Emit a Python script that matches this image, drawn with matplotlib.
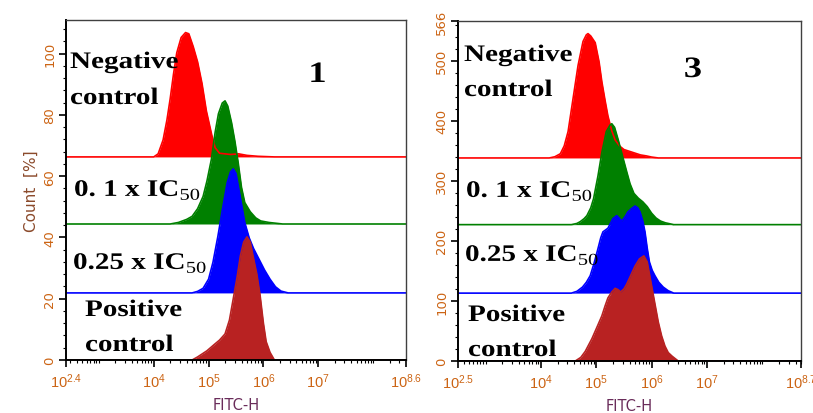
import numpy as np
import matplotlib
matplotlib.use("Agg")
import matplotlib.pyplot as plt
from matplotlib.ticker import FixedLocator, NullFormatter
from matplotlib.textpath import TextPath
from matplotlib.patches import PathPatch
from matplotlib.font_manager import FontProperties
from matplotlib.transforms import Affine2D

plt.rcParams["mathtext.fontset"] = "custom"
plt.rcParams["mathtext.rm"] = "Liberation Serif"
plt.rcParams["mathtext.sf"] = "Liberation Sans"

# log10(FITC-H) / count pairs for each histogram, sample 1
neg1_x = [4.00, 4.08, 4.17, 4.24, 4.30, 4.36, 4.42, 4.50, 4.58, 4.64, 4.72, 4.80, 4.88, 4.96, 5.06, 5.12, 5.20, 5.40, 5.55, 5.70, 5.90, 6.20]
neg1_y = [0, 1, 5.5, 12, 19, 27, 34, 39, 40.6, 40.2, 36, 31, 24, 15, 7, 3, 1.2, 0.8, 1.0, 0.5, 0.2, 0]
low1_x = [4.30, 4.45, 4.60, 4.70, 4.80, 4.90, 4.97, 5.05, 5.12, 5.18, 5.25, 5.30, 5.35, 5.42, 5.48, 5.54, 5.60, 5.66, 5.76, 5.86, 5.95, 6.10, 6.35]
low1_y = [0, 0.5, 1.5, 2.5, 5, 9, 14, 21, 30, 36, 39.5, 40.2, 38.5, 33, 27, 20, 12, 7, 4, 2, 1, 0.5, 0]
mid1_x = [4.70, 4.80, 4.90, 5.00, 5.08, 5.17, 5.25, 5.34, 5.40, 5.45, 5.50, 5.58, 5.66, 5.74, 5.82, 5.92, 6.02, 6.12, 6.22, 6.32, 6.45]
mid1_y = [0, 0.5, 1.5, 4.5, 10, 18.5, 27, 36, 39.5, 40.5, 39, 31, 23, 18, 14.5, 11, 7.5, 4.5, 2, 0.6, 0]
pos1_x = [4.70, 4.80, 4.97, 5.10, 5.20, 5.30, 5.38, 5.45, 5.52, 5.58, 5.64, 5.70, 5.76, 5.81, 5.88, 5.94, 6.00, 6.05, 6.12, 6.20]
pos1_y = [0, 1, 3, 5, 6.5, 8.5, 13, 20, 27, 34, 38.5, 40.2, 38.5, 34, 28, 21, 12, 6, 2.5, 0]
offsets1 = [66.3, 44.4, 21.9, 0]

# sample 3
neg3_x = [4.15, 4.25, 4.35, 4.42, 4.49, 4.58, 4.67, 4.76, 4.82, 4.85, 4.90, 4.98, 5.05, 5.10, 5.16, 5.21, 5.28, 5.34, 5.42, 5.50, 5.60, 5.70, 5.80, 5.90, 6.00, 6.12]
neg3_y = [0, 2, 7, 20, 44, 99, 154, 194, 205, 207, 203, 192, 160, 127, 95, 70, 45, 30, 20, 14, 11, 8, 5, 3.5, 1.5, 0]
low3_x = [4.55, 4.65, 4.71, 4.78, 4.83, 4.90, 4.95, 5.03, 5.10, 5.18, 5.25, 5.28, 5.33, 5.40, 5.48, 5.55, 5.61, 5.68, 5.76, 5.84, 5.92, 6.00, 6.08, 6.16, 6.25, 6.40]
low3_y = [0, 2, 5, 10, 15, 28, 43, 81, 120, 155, 166, 168, 162, 140, 112, 88, 68, 52, 44, 38, 30, 19, 11, 6, 3, 0]
mid3_x = [4.55, 4.65, 4.75, 4.82, 4.89, 4.96, 5.03, 5.08, 5.12, 5.21, 5.30, 5.37, 5.42, 5.46, 5.52, 5.57, 5.64, 5.70, 5.75, 5.79, 5.84, 5.88, 5.92, 5.96, 6.01, 6.06, 6.13, 6.21, 6.30, 6.40]
mid3_y = [0, 3, 10, 18, 29, 50, 74, 92, 102, 108, 124, 129, 124, 120, 127, 135, 141, 145, 142, 135, 120, 102, 75, 52, 38, 29, 18, 10, 4, 0]
pos3_x = [4.62, 4.72, 4.80, 4.92, 5.02, 5.10, 5.16, 5.21, 5.28, 5.34, 5.39, 5.44, 5.50, 5.55, 5.62, 5.70, 5.78, 5.86, 5.92, 5.97, 6.01, 6.07, 6.12, 6.18, 6.24, 6.30, 6.37, 6.48]
pos3_y = [0, 6, 16, 37, 58, 75, 92, 105, 115, 121, 119, 115, 120, 128, 142, 158, 170, 175, 165, 140, 120, 90, 65, 42, 25, 14, 8, 0]
offsets3 = [338, 227, 113, 0]

colors = ["#ff0000", "#008000", "#0000ff", "#b82222"]
tick_color = "#cc6414"
label_color = "#6a2c5a"

W, H = 813, 414
fig = plt.figure(figsize=(W / 100, H / 100), dpi=100)
ax1 = fig.add_axes([66 / W, 53 / H, 340 / W, 340 / H])
ax2 = fig.add_axes([458 / W, 52 / H, 343 / W, 340 / H])


def draw_panel(ax, series, offsets, xlim, ylim, yticks, yminor, xlabels):
    lo, hi = xlim
    for (xs, ys), base, c in zip(series, offsets, colors):
        lx = np.concatenate([[lo], xs, [hi]])
        cy = np.concatenate([[0], ys, [0]]) + base
        x = 10 ** lx
        ax.fill_between(x, base, cy, color=c, lw=0)
        ax.plot(x, cy, color=c, lw=1.2)
    ax.set_xscale("log")
    ax.set_xlim(10 ** lo, 10 ** hi)
    ax.set_ylim(*ylim)

    major = [10 ** lo, 1e4, 1e5, 1e6, 1e7, 10 ** hi]
    ax.xaxis.set_major_locator(FixedLocator(major))
    ax.set_xticklabels(xlabels)
    minors = []
    for d in range(2, 9):
        for m in range(1, 10):
            v = m * 10 ** d
            if 10 ** lo < v < 10 ** hi and v not in major:
                minors.append(v)
    ax.xaxis.set_minor_locator(FixedLocator(minors))
    ax.xaxis.set_minor_formatter(NullFormatter())

    ax.set_yticks(yticks)
    ax.set_yticklabels([str(t) for t in yticks], rotation=90, va="center")
    ax.yaxis.set_minor_locator(FixedLocator(yminor))

    ax.tick_params(axis="both", which="major", direction="out", length=5, width=1.2,
                   colors="black", labelcolor=tick_color)
    ax.tick_params(axis="both", which="minor", direction="out", length=2.5, width=0.8)
    ax.tick_params(axis="x", labelsize=10.5, pad=3)
    ax.tick_params(axis="y", labelsize=9.5, pad=2)
    for s in ["top", "right"]:
        ax.spines[s].set_color("#404040")
        ax.spines[s].set_linewidth(1.0)
    for s in ["left", "bottom"]:
        ax.spines[s].set_color("black")
        ax.spines[s].set_linewidth(1.4)
    ax.set_xlabel("FITC-H", color=label_color, fontsize=10.5, labelpad=5)


draw_panel(ax1, [(neg1_x, neg1_y), (low1_x, low1_y), (mid1_x, mid1_y), (pos1_x, pos1_y)],
           offsets1, (2.4, 8.6), (0, 111),
           [0, 20, 40, 60, 80, 100], list(range(4, 111, 4)),
           [r"$\mathsf{10^{2.4}}$", r"$\mathsf{10^4}$", r"$\mathsf{10^5}$",
            r"$\mathsf{10^6}$", r"$\mathsf{10^7}$", r"$\mathsf{10^{8.6}}$"])
draw_panel(ax2, [(neg3_x, neg3_y), (low3_x, low3_y), (mid3_x, mid3_y), (pos3_x, pos3_y)],
           offsets3, (2.5, 8.7), (0, 566),
           [0, 100, 200, 300, 400, 500, 566], list(range(20, 566, 20)),
           [r"$\mathsf{10^{2.5}}$", r"$\mathsf{10^4}$", r"$\mathsf{10^5}$",
            r"$\mathsf{10^6}$", r"$\mathsf{10^7}$", r"$\mathsf{10^{8.7}}$"])
ax1.set_ylabel("Count  [%]", color="#8b4a2b", fontsize=11, labelpad=3)

bold_serif = FontProperties(family="Liberation Serif", weight="bold")


def label(px, py, s, em=23.7, stretch=1.23, center=False):
    # wide bold serif label, baseline at (px, py) in pixels from top-left
    tp = TextPath((0, 0), s, size=em, prop=bold_serif)
    if center:
        ext = tp.get_extents()
        px -= (ext.x0 + ext.width / 2) * stretch
    tr = (Affine2D().scale(stretch / 100, 1 / 100).translate(px / 100, (H - py) / 100)
          + fig.dpi_scale_trans)
    fig.patches.append(PathPatch(tp, transform=tr, facecolor="black", lw=0))


ic = r"IC$_{\mathrm{50}}$"
# sample 1
label(70, 69, "Negative")
label(70, 105, "control")
label(74, 197, "0. 1 x " + ic)
label(73, 270, "0.25 x " + ic)
label(85, 317, "Positive")
label(85, 352, "control")
label(318, 83, "1", em=29.6, center=True)
# sample 3
label(464, 62, "Negative")
label(464, 97, "control")
label(466, 198, "0. 1 x " + ic)
label(465, 262, "0.25 x " + ic)
label(468, 322, "Positive")
label(468, 357, "control")
label(693, 78, "3", em=29.6, center=True)

fig.savefig("out.png", dpi=100)
